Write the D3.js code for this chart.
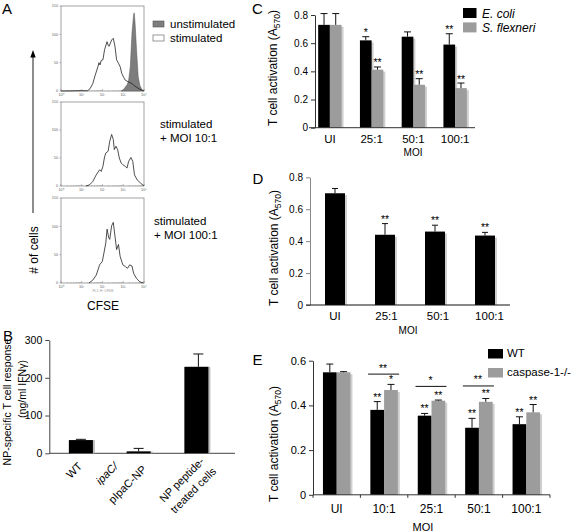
<!DOCTYPE html>
<html><head><meta charset="utf-8">
<script src="https://cdn.jsdelivr.net/npm/d3@7"></script>
<style>body{margin:0;background:#fff}svg{display:block;font-family:"Liberation Sans",Arial,sans-serif}</style>
</head><body><svg id="c" width="576" height="532"></svg>
<script>
// ---------- DATA ----------
// Panel A: CFSE histograms, [log10 CFSE, # of cells]
const histUnstim = [[2.9,0],[3.0,2],[3.1,7],[3.2,12],[3.26,19],[3.34,43],[3.42,102],[3.5,135],[3.53,138],[3.57,120],[3.64,73],[3.72,25],[3.8,10],[3.88,4],[3.97,0]];
const histStim = [[0,0],[1.0,0.5],[1.28,0.5],[1.4,4],[1.53,13],[1.65,28],[1.78,43],[1.83,50],[1.88,46],[1.94,54],[2.02,55],[2.1,73],[2.22,87],[2.28,80],[2.32,79],[2.44,90],[2.52,93],[2.6,79],[2.68,55],[2.77,49],[2.85,43],[2.93,31],[3.02,24],[3.1,19],[3.26,16],[3.42,13],[3.55,9],[3.67,6],[3.8,3],[3.92,1],[4,0]];
const histMOI10 = [[1.2,0],[1.37,2],[1.53,8],[1.7,20],[1.86,29],[1.94,26],[2.02,35],[2.1,52],[2.16,59],[2.27,62],[2.35,80],[2.44,92],[2.52,83],[2.57,65],[2.65,71],[2.73,65],[2.81,50],[2.9,41],[2.98,38],[3.1,35],[3.18,32],[3.26,44],[3.37,51],[3.46,44],[3.54,20],[3.67,11],[3.84,5],[3.97,1],[4,0]];
const histMOI100 = [[1.35,0],[1.53,5],[1.7,14],[1.86,32],[1.99,38],[2.07,53],[2.16,71],[2.22,95],[2.3,80],[2.35,77],[2.44,101],[2.52,107],[2.6,83],[2.68,59],[2.77,68],[2.85,47],[2.98,32],[3.1,29],[3.21,26],[3.31,32],[3.42,30],[3.5,17],[3.64,8],[3.8,2],[3.97,0]];
const histYTicks = [0,50,100,150];
const histXTicks = [0,1,2,3,4];
const histXTickLabels = ["10\u2070","10\u00B9","10\u00B2","10\u00B3","10\u2074"];
const histLegend = ["unstimulated","stimulated"];

// Panel B
const bCategories = ["WT","ipaC/pIpaC-NP","NP peptide-treated cells"];
const bValues = [35,5,229];
const bErrors = [2,8,34];
const bTicks = [0,100,200,300];

// Panel C
const cCategories = ["UI","25:1","50:1","100:1"];
const cEcoli = [0.73,0.62,0.646,0.59];
const cEcoliErr = [0.08,0.026,0.034,0.077];
const cShigella = [0.73,0.412,0.305,0.281];
const cShigellaErr = [0.08,0.019,0.043,0.036];
const cEcoliSig = ["","*","","**"];
const cShigellaSig = ["","**","**","**"];
const cSeries = ["E. coli","S. flexneri"];

// Panel D
const dCategories = ["UI","25:1","50:1","100:1"];
const dValues = [0.70,0.44,0.46,0.435];
const dErrors = [0.03,0.07,0.04,0.02];
const dSig = ["","**","**","**"];

// Panel E
const eCategories = ["UI","10:1","25:1","50:1","100:1"];
const eWT = [0.548,0.38,0.354,0.30,0.316];
const eWTErr = [0.037,0.037,0.01,0.042,0.033];
const eCasp = [0.548,0.469,0.421,0.416,0.369];
const eCaspErr = [0.003,0.025,0.003,0.015,0.035];
const eWTSig = ["","**","**","**","**"];
const eCaspSig = ["","*","**","**","**"];
const eBracketCats = ["10:1","25:1","50:1"];
const eBracketVals = [0.54,0.485,0.487];
const eBracketSig = ["**","*","**"];
const eSeries = ["WT","caspase-1-/-"];

const activTicks = [0,0.2,0.4,0.6,0.8];

// ---------- DRAW ----------
const svg = d3.select("#c");
const BLACK = "#000", GRAY = "#9c9c9c", SHADOW = "#cfcfcf";
const fmt = d => d === 0 ? "0" : d3.format(".1f")(d);

function letter(t, x, y){ svg.append("text").attr("x",x).attr("y",y).attr("font-size",15).text(t); }

// ===== Panel A =====
letter("A", 2, 14);
const hx = d3.scaleLinear().domain([0,4]).range([61,144]);
const boxes = [
  {top:6, bottom:91, curves:[{d:histUnstim, fill:true},{d:histStim, fill:false}]},
  {top:102, bottom:186, curves:[{d:histMOI10, fill:false}]},
  {top:198, bottom:283, curves:[{d:histMOI100, fill:false}]}
];
boxes.forEach((b,i) => {
  const hy = d3.scaleLinear().domain([0,150]).range([b.bottom, b.top]);
  const g = svg.append("g");
  g.append("rect").attr("x",hx(0)).attr("y",b.top).attr("width",hx(4)-hx(0)).attr("height",b.bottom-b.top)
    .attr("fill","none").attr("stroke","#8a8a8a").attr("stroke-width",0.8);
  histYTicks.forEach(t => {
    g.append("line").attr("x1",hx(0)-1.5).attr("x2",hx(0)).attr("y1",hy(t)).attr("y2",hy(t)).attr("stroke","#777").attr("stroke-width",0.5);
    g.append("text").attr("x",hx(0)-3).attr("y",hy(t)+1.3).attr("text-anchor","end").attr("font-size",3.8).attr("fill","#666").text(t);
  });
  histXTicks.forEach(t => {
    g.append("line").attr("x1",hx(t)).attr("x2",hx(t)).attr("y1",b.bottom).attr("y2",b.bottom-2).attr("stroke","#777").attr("stroke-width",0.5);
    g.append("text").attr("x",hx(t)).attr("y",b.bottom+5).attr("text-anchor","middle").attr("font-size",3.8).attr("fill","#666").text(histXTickLabels[t]);
    if (t < 4) for (let k=2;k<10;k++){
      const lx = hx(t + Math.log10(k));
      g.append("line").attr("x1",lx).attr("x2",lx).attr("y1",b.bottom).attr("y2",b.bottom-1).attr("stroke","#888").attr("stroke-width",0.4);
    }
  });
  const line = d3.line().x(d=>hx(d[0])).y(d=>hy(d[1]));
  const area = d3.area().x(d=>hx(d[0])).y0(hy(0)).y1(d=>hy(d[1]));
  b.curves.forEach(c => {
    if (c.fill) g.append("path").attr("d",area(c.d)).attr("fill","#7d7d7d").attr("stroke","#555").attr("stroke-width",0.5);
    else g.append("path").attr("d",line(c.d)).attr("fill","none").attr("stroke","#222").attr("stroke-width",0.8);
  });
});
svg.append("text").attr("x",103).attr("y",291.5).attr("text-anchor","middle").attr("font-size",3.5).attr("fill","#999").text("FL1-H: CFSE");
histLegend.forEach((t,i) => {
  const y = 21 + i*14;
  svg.append("rect").attr("x",153).attr("y",y).attr("width",11).attr("height",6)
    .attr("fill", i===0 ? "#7d7d7d" : "#fff").attr("stroke","#555").attr("stroke-width",0.6);
  svg.append("text").attr("x",170).attr("y",y+6.5).attr("font-size",11.5).text(t);
});
[["stimulated","+ MOI 10:1",160,128],["stimulated","+ MOI 100:1",154,225]].forEach(a => {
  svg.append("text").attr("x",a[2]).attr("y",a[3]).attr("font-size",11.5).text(a[0]);
  svg.append("text").attr("x",a[2]).attr("y",a[3]+14).attr("font-size",11.5).text(a[1]);
});
svg.append("line").attr("x1",33).attr("x2",33).attr("y1",213).attr("y2",57).attr("stroke","#000").attr("stroke-width",0.9);
svg.append("path").attr("d","M33,50 L30.3,57.5 L35.7,57.5 Z").attr("fill","#000");
svg.append("text").attr("transform","translate(37.5,250) rotate(-90)").attr("text-anchor","middle").attr("font-size",12).text("# of cells");
svg.append("text").attr("x",103).attr("y",310).attr("text-anchor","middle").attr("font-size",12).text("CFSE");

// ===== helpers =====
function drawBar(g, x, w, y0, yv, fill){
  g.append("rect").attr("x",x+2).attr("y",yv+2).attr("width",w).attr("height",Math.max(0,y0-yv-2)).attr("fill",SHADOW);
  g.append("rect").attr("x",x).attr("y",yv).attr("width",w).attr("height",y0-yv).attr("fill",fill);
}
function drawErr(g, cx, yv, ye, cap){
  g.append("line").attr("x1",cx).attr("x2",cx).attr("y1",yv).attr("y2",ye).attr("stroke","#111").attr("stroke-width",1);
  g.append("line").attr("x1",cx-cap).attr("x2",cx+cap).attr("y1",ye).attr("y2",ye).attr("stroke","#111").attr("stroke-width",1);
}
function drawSig(g, cx, y, s, size){
  if (s) g.append("text").attr("x",cx).attr("y",y).attr("text-anchor","middle").attr("font-size",size||10.5).text(s);
}
function yAxis(g, y, x, ticks, color, fontSize, format){
  const ax = d3.axisLeft(y).tickValues(ticks).tickFormat(format).tickSize(4).tickSizeOuter(0).tickPadding(3);
  const gg = g.append("g").attr("transform",`translate(${x},0)`).call(ax);
  gg.select(".domain").attr("stroke",color);
  gg.selectAll(".tick line").attr("stroke",color);
  gg.selectAll(".tick text").attr("font-family","Liberation Sans, Arial, sans-serif").attr("font-size",fontSize).attr("fill","#000");
  return gg;
}
function activLabel(cx, cy){
  const t = svg.append("text").attr("transform",`translate(${cx},${cy}) rotate(-90)`).attr("text-anchor","middle").attr("font-size",12);
  t.append("tspan").text("T cell activation (A");
  t.append("tspan").attr("font-size",8.5).attr("dy",3).text("570");
  t.append("tspan").attr("dy",-3).text(")");
}

// ===== Panel B =====
letter("B", 3, 341);
{
  const g = svg.append("g");
  const x = d3.scaleBand().domain(bCategories).range([52,225.25]).paddingInner(0.584).paddingOuter(0.292);
  const y = d3.scaleLinear().domain([0,300]).range([453.3,340]);
  yAxis(g, y, 49.3, bTicks, "#444", 10.5, d3.format("d"));
  g.append("line").attr("x1",49.3).attr("x2",235).attr("y1",y(0)).attr("y2",y(0)).attr("stroke","#444");
  bCategories.forEach((c,i) => {
    const bx = x(c), w = x.bandwidth(), cx = bx + w/2;
    g.append("rect").attr("x",bx+2).attr("y",y(bValues[i])).attr("width",w).attr("height",y(0)-y(bValues[i])).attr("fill","#bdbdbd");
    g.append("rect").attr("x",bx).attr("y",y(bValues[i])).attr("width",w).attr("height",y(0)-y(bValues[i])).attr("fill",BLACK);
    drawErr(g, cx+(i===2?2:0), y(bValues[i]), y(bValues[i]+bErrors[i]), 5);
  });
  const lab = (txt, cx, ex, ey, italic) => {
    g.append("text").attr("transform",`translate(${cx+ex},${ey}) rotate(-45)`).attr("text-anchor","end")
      .attr("font-size",11).attr("font-style",italic?"italic":"normal").text(txt);
  };
  const c0 = x(bCategories[0])+x.bandwidth()/2, c1 = x(bCategories[1])+x.bandwidth()/2, c2 = x(bCategories[2])+x.bandwidth()/2;
  lab("WT", c0, 2, 467);
  lab("ipaC/", c1, -20, 467, true);
  lab("pIpaC-NP", c1, 8.5, 470);
  lab("NP peptide-", c2, 8.5, 462);
  lab("treated cells", c2, 20.5, 472);
  svg.append("text").attr("transform","translate(10.5,402) rotate(-90)").attr("text-anchor","middle").attr("font-size",10.5).text("NP-specific T cell response");
  svg.append("text").attr("transform","translate(25.5,389) rotate(-90)").attr("text-anchor","middle").attr("font-size",10.5).text("(ng/ml IFN\u03B3)");
}

// ===== Panel C =====
letter("C", 252, 13.5);
{
  const g = svg.append("g");
  const x = d3.scaleBand().domain(cCategories).range([309,476]).paddingInner(0.44).paddingOuter(0.22);
  const y = d3.scaleLinear().domain([0,0.8]).range([127.7,15]);
  const bw = x.bandwidth()/2;
  cCategories.forEach((c,i) => {
    const bx = x(c);
    drawBar(g, bx, bw, y(0), y(cEcoli[i]), BLACK);
    drawBar(g, bx+bw, bw, y(0), y(cShigella[i]), GRAY);
    drawErr(g, bx+bw/2, y(cEcoli[i]), y(cEcoli[i]+cEcoliErr[i]), 3.5);
    drawErr(g, bx+bw*1.5, y(cShigella[i]), y(cShigella[i]+cShigellaErr[i]), 3.5);
    drawSig(g, bx+bw/2, y(cEcoli[i]+cEcoliErr[i])-0.5, cEcoliSig[i]);
    drawSig(g, bx+bw*1.5, y(cShigella[i]+cShigellaErr[i])-0.5, cShigellaSig[i]);
    g.append("text").attr("x",bx+x.bandwidth()/2).attr("y",142.5).attr("text-anchor","middle").attr("font-size",11.5).text(c);
  });
  yAxis(g, y, 315, activTicks, "#333", 10, fmt);
  g.append("line").attr("x1",309).attr("x2",475).attr("y1",y(0)).attr("y2",y(0)).attr("stroke","#333");
  g.append("text").attr("x",413).attr("y",155.5).attr("text-anchor","middle").attr("font-size",10).text("MOI");
  cSeries.forEach((s,i) => {
    g.append("rect").attr("x",463).attr("y",8+i*14.4).attr("width",13.5).attr("height",10).attr("fill",i?GRAY:BLACK);
    g.append("text").attr("x",482).attr("y",18+i*14).attr("font-size",12).attr("font-style","italic").text(s);
  });
  activLabel(277, 68);
}

// ===== Panel D =====
letter("D", 252.5, 183.5);
{
  const g = svg.append("g");
  const x = d3.scaleBand().domain(dCategories).range([310,510]).paddingInner(0.6).paddingOuter(0.3);
  const y = d3.scaleLinear().domain([0,0.8]).range([305,177.3]);
  dCategories.forEach((c,i) => {
    const bx = x(c), w = x.bandwidth();
    drawBar(g, bx, w, y(0), y(dValues[i]), BLACK);
    drawErr(g, bx+w/2, y(dValues[i]), y(dValues[i]+dErrors[i]), 3);
    drawSig(g, bx+w/2, y(dValues[i]+dErrors[i])-1, dSig[i]);
    g.append("text").attr("x",bx+w/2+(i===0?0:1.5*i)).attr("y",320).attr("text-anchor","middle").attr("font-size",11.5).text(c);
  });
  yAxis(g, y, 310, activTicks, "#888", 10, fmt);
  g.append("line").attr("x1",306).attr("x2",510).attr("y1",y(0)).attr("y2",y(0)).attr("stroke","#111");
  g.append("text").attr("x",408).attr("y",333.5).attr("text-anchor","middle").attr("font-size",10).text("MOI");
  activLabel(278, 248);
}

// ===== Panel E =====
letter("E", 252.5, 365);
{
  const g = svg.append("g");
  const x = d3.scaleBand().domain(eCategories).range([313,550]).paddingInner(0.42).paddingOuter(0.21);
  const y = d3.scaleLinear().domain([0,0.6]).range([494.8,360.7]);
  const bw = x.bandwidth()/2;
  const step = x.step();
  eCategories.forEach((c,i) => {
    const bx = x(c);
    drawBar(g, bx, bw, y(0), y(eWT[i]), BLACK);
    drawBar(g, bx+bw, bw, y(0), y(eCasp[i]), GRAY);
    drawErr(g, bx+bw/2, y(eWT[i]), y(eWT[i]+eWTErr[i]), 3.5);
    drawErr(g, bx+bw*1.5, y(eCasp[i]), y(eCasp[i]+eCaspErr[i]), 3.5);
    drawSig(g, bx+bw/2, y(eWT[i]+eWTErr[i])-1, eWTSig[i]);
    drawSig(g, bx+bw*1.5, y(eCasp[i]+eCaspErr[i])-1, eCaspSig[i]);
    g.append("text").attr("x",bx+x.bandwidth()/2).attr("y",513).attr("text-anchor","middle").attr("font-size",12).text(c);
  });
  d3.range(eCategories.length+1).forEach(k => {
    const tx = 313 + k*step;
    g.append("line").attr("x1",tx).attr("x2",tx).attr("y1",y(0)).attr("y2",y(0)+3).attr("stroke","#333");
  });
  eBracketCats.forEach((c,i) => {
    const cx = x(c)+x.bandwidth()/2;
    g.append("line").attr("x1",cx-16).attr("x2",cx+15).attr("y1",y(eBracketVals[i])).attr("y2",y(eBracketVals[i])).attr("stroke","#111");
    drawSig(g, cx-1, y(eBracketVals[i])-2.5, eBracketSig[i]);
  });
  yAxis(g, y, 313, [0,0.2,0.4,0.6], "#333", 11, fmt);
  g.append("line").attr("x1",313).attr("x2",550).attr("y1",y(0)).attr("y2",y(0)).attr("stroke","#333");
  g.append("text").attr("x",423).attr("y",531).attr("text-anchor","middle").attr("font-size",11).text("MOI");
  eSeries.forEach((s,i) => {
    g.append("rect").attr("x",488).attr("y",349+i*19).attr("width",15).attr("height",9.5).attr("fill",i?GRAY:BLACK);
    g.append("text").attr("x",507).attr("y",357+i*19).attr("font-size",11.5).text(s);
  });
  activLabel(278, 444);
}
</script></body></html>
